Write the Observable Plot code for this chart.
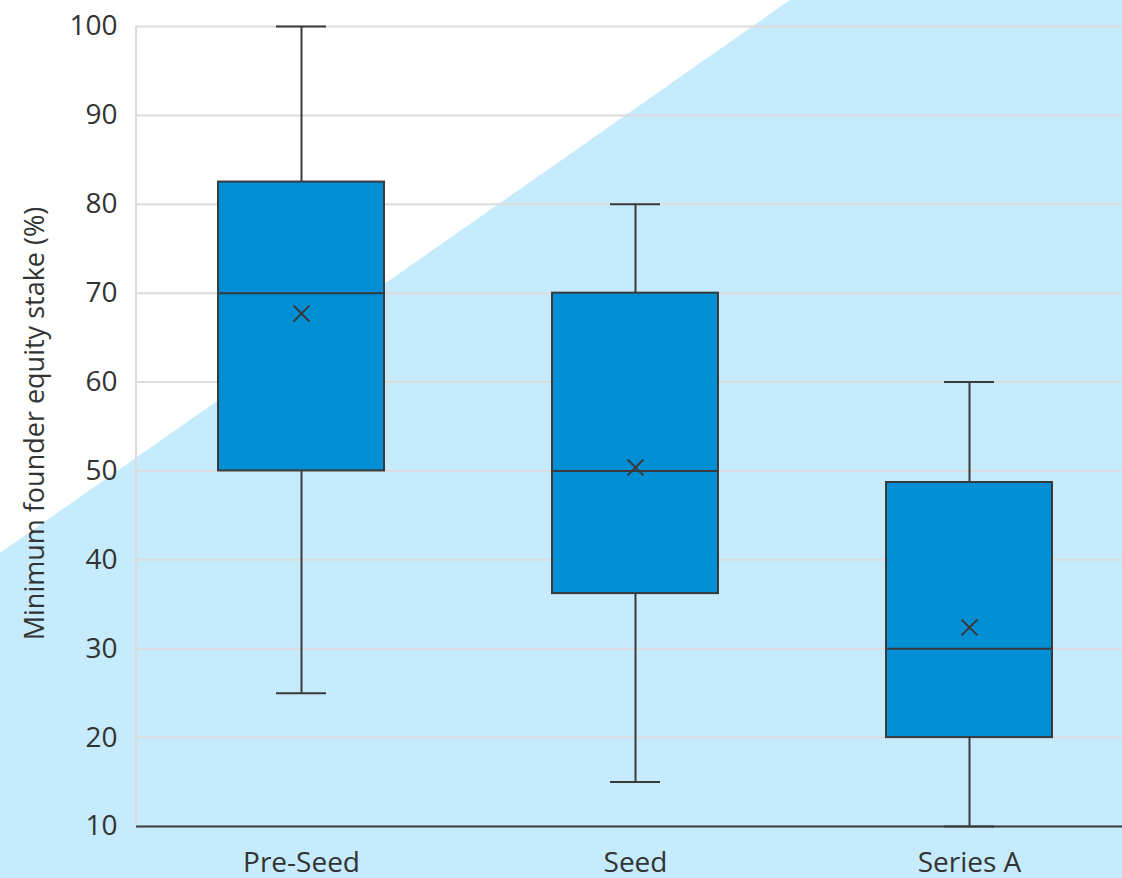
<!DOCTYPE html>
<html><head>
<meta charset="utf-8">
<script src="https://cdn.jsdelivr.net/npm/d3@7"></script>
<script src="https://cdn.jsdelivr.net/npm/@observablehq/plot@0.6"></script>
<style>
html,body{margin:0;padding:0;}
body{width:1122px;height:878px;overflow:hidden;background:#c5ebfc;position:relative;font-family:"Open Sans",sans-serif;}
#bg{position:absolute;left:0;top:0;width:1122px;height:878px;background:#fff;clip-path:polygon(0 0,790px 0,0 553px);}
#chart{position:absolute;left:0;top:0;}
</style></head>
<body><div id="bg"></div><div id="chart"></div>
<script>
const stages = ["Pre-Seed", "Seed", "Series A"];
const minVals = [25, 15, 10];
const q1Vals = [50, 36.2, 20];
const medianVals = [70, 50, 30];
const q3Vals = [82.5, 70, 48.7];
const maxVals = [100, 80, 60];
const meanVals = [67.7, 50.4, 32.4];
const yTicks = [10, 20, 30, 40, 50, 60, 70, 80, 90, 100];
const yLabel = "Minimum founder equity stake (%)";

const data = stages.map((s, i) => ({
  stage: s, min: minVals[i], q1: q1Vals[i], median: medianVals[i],
  q3: q3Vals[i], max: maxVals[i], mean: meanVals[i]
}));

const ink = "#3a3a3a";
const leftLine = (...args) => {
  const scales = args.find(a => a && typeof a.y === "function");
  const dims = args.find(a => a && a.marginLeft !== undefined);
  const ns = "http://www.w3.org/2000/svg";
  const l = document.createElementNS(ns, "line");
  l.setAttribute("x1", dims.marginLeft);
  l.setAttribute("x2", dims.marginLeft);
  l.setAttribute("y1", scales.y(yTicks[yTicks.length - 1]));
  l.setAttribute("y2", scales.y(yTicks[0]));
  l.setAttribute("stroke", "#dcdcdc");
  l.setAttribute("stroke-width", 2);
  return l;
};

const chart = Plot.plot({
  width: 1122, height: 878,
  marginTop: 26, marginBottom: 52, marginLeft: 136, marginRight: 0,
  style: {background: "transparent", fontFamily: "'Open Sans', sans-serif", color: "#333", overflow: "visible"},
  x: {domain: stages, range: [134, 1136], padding: 0},
  y: {domain: [10, 100]},
  marks: [
    Plot.ruleY(yTicks.slice(1), {stroke: "#dcdcdc", strokeWidth: 2}),
    leftLine,
    Plot.ruleX(data, {x: "stage", y1: "min", y2: "q1", stroke: ink, strokeWidth: 2}),
    Plot.ruleX(data, {x: "stage", y1: "q3", y2: "max", stroke: ink, strokeWidth: 2}),
    Plot.tickY(data, {x: "stage", y: "min", stroke: ink, strokeWidth: 2, insetLeft: 142, insetRight: 142}),
    Plot.tickY(data, {x: "stage", y: "max", stroke: ink, strokeWidth: 2, insetLeft: 142, insetRight: 142}),
    Plot.barY(data, {x: "stage", y1: "q1", y2: "q3", fill: "#008fd5", stroke: ink, strokeWidth: 2, insetLeft: 84, insetRight: 84}),
    Plot.tickY(data, {x: "stage", y: "median", stroke: ink, strokeWidth: 2, insetLeft: 84, insetRight: 84}),
    Plot.dot(data, {x: "stage", y: "mean", symbol: "times", r: 7.3, stroke: ink, strokeWidth: 2}),
    Plot.ruleY([yTicks[0]], {stroke: ink, strokeWidth: 2}),
    Plot.axisX({tickSize: 0, tickPadding: 26, fontSize: 28, label: null, fill: "#333"}),
    Plot.axisY({ticks: yTicks, tickSize: 0, tickPadding: 19, fontSize: 28, label: null, fill: "#333"}),
    Plot.text([yLabel], {frameAnchor: "left", textAnchor: "middle", rotate: -90, dx: -101, dy: -3, fontSize: 27, fill: "#333"})
  ]
});
document.getElementById("chart").appendChild(chart);
</script>
</body></html>
